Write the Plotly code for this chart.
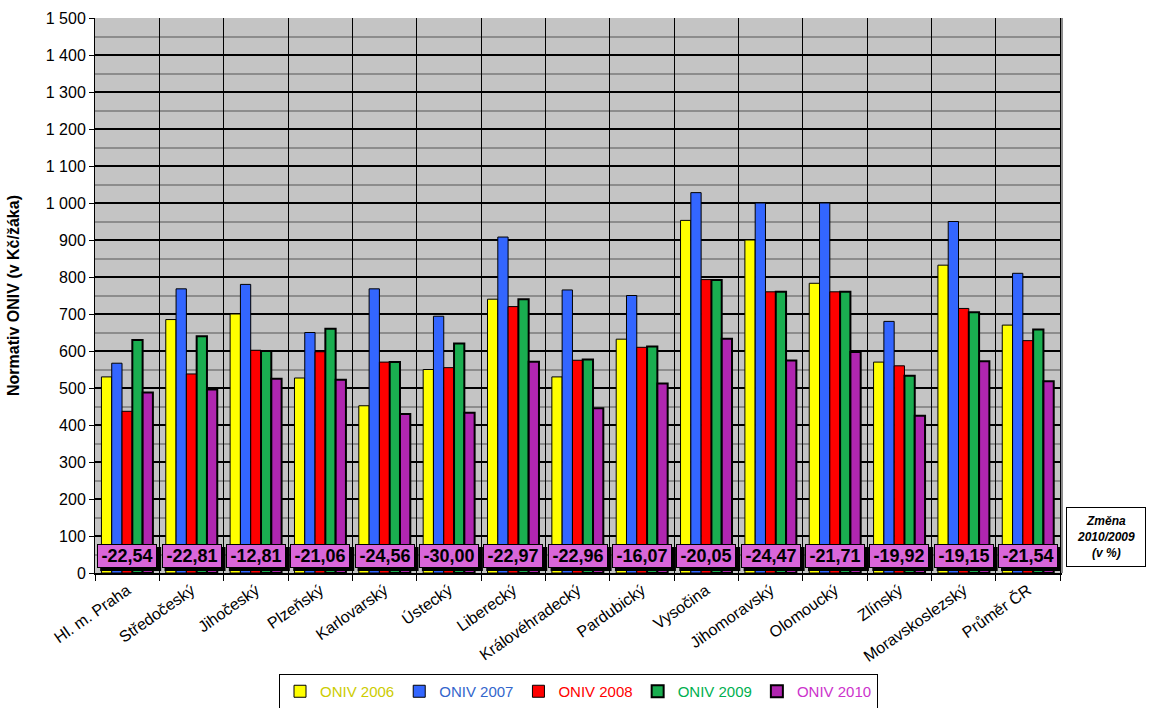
import plotly.graph_objects as go

categories = ["Hl. m. Praha", "Středočeský", "Jihočeský", "Plzeňský", "Karlovarský", "Ústecký",
              "Liberecký", "Královéhradecký", "Pardubický", "Vysočina", "Jihomoravský",
              "Olomoucký", "Zlínský", "Moravskoslezský", "Průměr ČR"]
oniv2006 = [530, 685, 700, 527, 452, 550, 740, 530, 632, 953, 900, 783, 570, 832, 670]
oniv2007 = [567, 768, 780, 650, 768, 694, 908, 765, 750, 1028, 1000, 1000, 680, 950, 810]
oniv2008 = [437, 538, 602, 598, 570, 555, 720, 575, 610, 793, 760, 760, 560, 715, 628]
oniv2009 = [630, 640, 600, 660, 570, 620, 740, 577, 612, 792, 760, 760, 533, 705, 658]
oniv2010 = [488, 496, 525, 522, 430, 433, 571, 445, 512, 633, 574, 597, 425, 572, 518]
change = ["-22,54", "-22,81", "-12,81", "-21,06", "-24,56", "-30,00", "-22,97", "-22,96",
          "-16,07", "-20,05", "-24,47", "-21,71", "-19,92", "-19,15", "-21,54"]
series_names = ["ONIV 2006", "ONIV 2007", "ONIV 2008", "ONIV 2009", "ONIV 2010"]

fills = ["#FFFF00", "#3366FF", "#FF0000", "#1AAE50", "#B026B0"]
text_colors = ["#CCCC00", "#3366CC", "#FF0000", "#00B050", "#CC33CC"]
line_widths = [1, 1, 1, 2, 2]

fig = go.Figure()
for name, vals, fc, tc, lw in zip(series_names, [oniv2006, oniv2007, oniv2008, oniv2009, oniv2010],
                                   fills, text_colors, line_widths):
    fig.add_trace(go.Bar(
        x=categories, y=vals,
        name=f'<span style="color:{tc}">{name}</span>',
        marker=dict(color=fc, line=dict(color="black", width=lw)),
    ))

# change labels: shadow shape + pink labelled box
LABEL_Y = 46
for i, (c, t) in enumerate(zip(categories, change)):
    fig.add_shape(type="rect", xref="x", yref="y", xsizemode="pixel", ysizemode="pixel",
                  xanchor=i, yanchor=LABEL_Y, x0=-27, x1=34, y0=-15, y1=9,
                  fillcolor="black", line=dict(width=0), layer="above")
    fig.add_annotation(x=c, y=LABEL_Y, xref="x", yref="y", text=f"<b>{t}</b>", showarrow=False,
                       bgcolor="#D966D9", bordercolor="black", borderwidth=1, borderpad=1,
                       width=56, height=20, font=dict(size=18, color="black",
                                                     family="Liberation Sans, Arial"))

fig.add_annotation(xref="paper", yref="paper", x=1.0045, y=0.065, xanchor="left", yanchor="middle",
                   text="<b><i>Změna<br>2010/2009<br>(v %)</i></b>", showarrow=False,
                   bgcolor="white", bordercolor="black", borderwidth=1, width=76, height=56,
                   font=dict(size=12, color="black", family="Liberation Sans, Arial"))

fig.update_layout(
    width=1152, height=708,
    margin=dict(l=95, r=90, t=18, b=135, autoexpand=False),
    paper_bgcolor="white",
    plot_bgcolor="#C4C4C4",
    barmode="group",
    bargap=0.2,
    bargroupgap=0,
    separators=", ",
    font=dict(family="Liberation Sans, Arial", size=15, color="black"),
    showlegend=True,
    legend=dict(orientation="h", x=0.5, xanchor="center", y=-0.182, yanchor="top",
                bgcolor="white", bordercolor="black", borderwidth=1,
                font=dict(size=15), itemwidth=30, traceorder="normal"),
    xaxis=dict(
        tickangle=-35, tickson="boundaries", showgrid=True, gridcolor="black", gridwidth=1,
        ticks="outside", ticklen=6, tickcolor="black", showline=True, linecolor="black",
        linewidth=2, tickfont=dict(size=16), mirror=False, automargin=False,
    ),
    yaxis=dict(
        range=[0, 1500], dtick=100, tickformat=",d", showgrid=True, gridcolor="black",
        gridwidth=1.5, ticks="outside", ticklen=5, tickcolor="black", showline=True,
        linecolor="black", linewidth=1, tickfont=dict(size=16), automargin=False,
        minor=dict(dtick=50, showgrid=True, gridcolor="#8C8C8C", gridwidth=1.5),
        title=dict(text="<b>Normativ ONIV (v Kč/žáka)</b>", font=dict(size=16), standoff=22),
        zeroline=False,
    ),
)
fig.add_shape(type="line", xref="paper", yref="paper", x0=1, x1=1, y0=0, y1=1,
              line=dict(color="#8C8C8C", width=2))

fig.write_html("out.html")
